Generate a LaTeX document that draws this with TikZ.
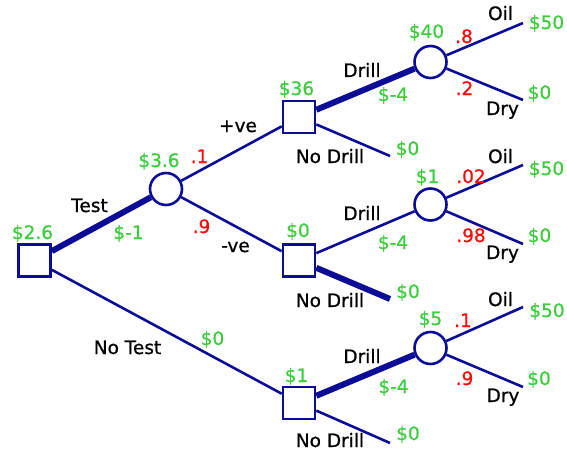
\documentclass[tikz,border=0pt]{standalone}
\usepackage{fontspec}
\setmainfont[FakeBold=0.8]{DejaVu Sans}
\definecolor{treeblue}{RGB}{12,12,150}
\definecolor{valgreen}{RGB}{60,205,60}
\definecolor{probred}{RGB}{250,10,10}
\begin{document}
\begin{tikzpicture}[x=1pt,y=-1pt,
  decision/.style={rectangle, draw=treeblue, line width=2.6pt, fill=white, minimum size=32pt, inner sep=0pt},
  chance/.style={circle, draw=treeblue, line width=2.6pt, fill=white, minimum size=32pt, inner sep=0pt},
  branch/.style={draw=treeblue, line width=2.6pt},
  best/.style={draw=treeblue, line width=6pt},
  lbl/.style={anchor=base, inner sep=0pt, font=\fontsize{18.5}{20}\selectfont},
  val/.style={lbl, text=valgreen},
  prob/.style={lbl, text=probred}]
\useasboundingbox (0,0) rectangle (567,452);

% decision and chance nodes
\node[decision] (root) at (34.5,260.5) {};
\node[chance]   (survey) at (166,189) {};
\node[decision] (pos) at (299,117) {};
\node[decision] (neg) at (299,260.5) {};
\node[decision] (notest) at (299,403) {};
\node[chance]   (wellA) at (430.5,62) {};
\node[chance]   (wellB) at (430.5,204.5) {};
\node[chance]   (wellC) at (430.5,348) {};

% leaf ends
\coordinate (oilA) at (523,23);
\coordinate (dryA) at (523,100);
\coordinate (oilB) at (523,165);
\coordinate (dryB) at (523,244);
\coordinate (oilC) at (523,307);
\coordinate (dryC) at (523,387);
\coordinate (ndA) at (390,156);
\coordinate (ndB) at (390,299);
\coordinate (ndC) at (390,443);

% branches
\draw[best]   (root) -- (survey);
\draw[branch] (root) -- (notest);
\draw[branch] (survey) -- (pos);
\draw[branch] (survey) -- (neg);
\draw[best]   (pos) -- (wellA);
\draw[branch] (pos) -- (ndA);
\draw[branch] (neg) -- (wellB);
\draw[best]   (neg) -- (ndB);
\draw[best]   (notest) -- (wellC);
\draw[branch] (notest) -- (ndC);
\draw[branch] (wellA) -- (oilA);
\draw[branch] (wellA) -- (dryA);
\draw[branch] (wellB) -- (oilB);
\draw[branch] (wellB) -- (dryB);
\draw[branch] (wellC) -- (oilC);
\draw[branch] (wellC) -- (dryC);

% node values
\node[val] (vroot) at (32.5,239) {\$2.6};
\node[val] (vsurvey) at (159,167) {\$3.6};
\node[val] (vpos) at (296.5,95) {\$36};
\node[val] (vneg) at (298,237) {\$0};
\node[val] (vnotest) at (296.5,382) {\$1};
\node[val] (vwellA) at (426.5,38) {\$40};
\node[val] (vwellB) at (427.5,183) {\$1};
\node[val] (vwellC) at (430.5,325) {\$5};

% branch costs and payoffs
\node[val] (ctest) at (128.5,239) {\$-1};
\node[val] (cnotest) at (212.5,345) {\$0};
\node[val] (cdrillA) at (393,101) {\$-4};
\node[val] (cdrillB) at (393,249) {\$-4};
\node[val] (cdrillC) at (393.5,393) {\$-4};
\node[val] (pndA) at (407.5,155) {\$0};
\node[val] (pndB) at (408,298) {\$0};
\node[val] (pndC) at (408,440) {\$0};
\node[val] (poilA) at (546.5,29) {\$50};
\node[val] (pdryA) at (539.5,99) {\$0};
\node[val] (poilB) at (546.5,175) {\$50};
\node[val] (pdryB) at (539.5,242) {\$0};
\node[val] (poilC) at (547,317) {\$50};
\node[val] (pdryC) at (539,385) {\$0};

% probabilities
\node[prob] (ppos) at (199.5,163) {.1};
\node[prob] (pneg) at (201.5,233) {.9};
\node[prob] (qoilA) at (464,43) {.8};
\node[prob] (qdryA) at (464.5,95) {.2};
\node[prob] (qoilB) at (471,183) {.02};
\node[prob] (qdryB) at (471,242) {.98};
\node[prob] (qoilC) at (463,327) {.1};
\node[prob] (qdryC) at (464.5,385) {.9};

% branch names
\node[lbl] (ltest) at (89.5,212) {Test};
\node[lbl] (lnotest) at (127.5,354) {No Test};
\node[lbl] (lpos) at (238,132) {+ve};
\node[lbl] (lneg) at (235.5,252) {-ve};
\node[lbl] (ldrillA) at (362,77) {Drill};
\node[lbl] (ldrillB) at (362,220) {Drill};
\node[lbl] (ldrillC) at (362,363) {Drill};
\node[lbl] (lndA) at (330,163) {No Drill};
\node[lbl] (lndB) at (330,307) {No Drill};
\node[lbl] (lndC) at (330,447) {No Drill};
\node[lbl] (loilA) at (500.5,20) {Oil};
\node[lbl] (ldryA) at (502.5,115) {Dry};
\node[lbl] (loilB) at (500.5,163) {Oil};
\node[lbl] (ldryB) at (502.5,259) {Dry};
\node[lbl] (loilC) at (500.5,306) {Oil};
\node[lbl] (ldryC) at (503,402) {Dry};
\end{tikzpicture}
\end{document}
